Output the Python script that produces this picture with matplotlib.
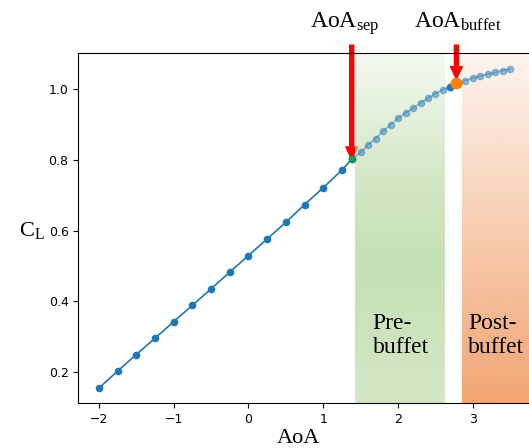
import numpy as np
import matplotlib
matplotlib.use("Agg")
import matplotlib.pyplot as plt

plt.rcParams['mathtext.fontset'] = 'custom'
plt.rcParams['mathtext.rm'] = 'Liberation Serif'
plt.rcParams['mathtext.it'] = 'Liberation Serif:italic'

# attached-flow part of the lift curve
aoa_att = [-2.0, -1.75, -1.5, -1.25, -1.0, -0.75, -0.5, -0.25, 0.0, 0.25, 0.5, 0.75, 1.0, 1.25, 1.38]
cl_att = [0.155, 0.203, 0.250, 0.296, 0.343, 0.389, 0.436, 0.483, 0.530, 0.577, 0.624, 0.674, 0.722, 0.772, 0.802]

# separated part (drawn faded)
aoa_sep_pts = [1.38, 1.5, 1.6, 1.7, 1.8, 1.9, 2.0, 2.1, 2.2, 2.3, 2.4, 2.5, 2.6, 2.7, 2.8,
               2.9, 3.0, 3.1, 3.2, 3.3, 3.4, 3.5]
cl_sep_pts = [0.802, 0.822, 0.843, 0.861, 0.882, 0.900, 0.918, 0.933, 0.947, 0.961, 0.975,
              0.988, 0.999, 1.008, 1.017, 1.025, 1.032, 1.038, 1.043, 1.048, 1.053, 1.057]

# points around buffet onset
aoa_near = [2.7, 2.8]
cl_near = [1.008, 1.017]

aoa_sep, cl_sep = 1.38, 0.802
aoa_buf, cl_buf = 2.78, 1.017

pre_band = (1.425, 2.62)
post_band = (2.86, 3.75)

xlim = (-2.275, 3.75)
ylim = (0.112, 1.102)


def band(ax, x0, x1, rgb, stops, alphas):
    t = np.linspace(0, 1, 256)
    img = np.zeros((256, 1, 4))
    img[:, 0, :3] = np.array(rgb) / 255.0
    img[:, 0, 3] = np.interp(t, stops, alphas)
    ax.imshow(img, extent=(x0, x1, ylim[0], ylim[1]), origin='upper',
              aspect='auto', interpolation='bilinear', zorder=2)


fig = plt.figure(figsize=(5.29, 4.48), dpi=100)
ax = fig.add_axes([78.3 / 529, 44.7 / 448, 1 - 78.3 / 529, 350 / 448])

band(ax, pre_band[0], pre_band[1], (197, 224, 180), [0, 0.35, 0.6, 1.0], [0.2, 0.75, 1.0, 0.75])
band(ax, post_band[0], post_band[1], (242, 165, 115), [0, 1.0], [0.12, 1.0])

# arrows sit under the shaded bands
ap = dict(facecolor='red', edgecolor='red', width=2.9, headwidth=8.5, headlength=9, shrink=0)
ax.annotate('', xy=(aoa_sep, cl_sep), xytext=(aoa_sep, 1.125), arrowprops=ap,
            annotation_clip=False, zorder=1.5)
ax.annotate('', xy=(aoa_buf, 1.029), xytext=(aoa_buf, 1.125), arrowprops=ap,
            annotation_clip=False, zorder=1.5)

ax.plot(aoa_sep_pts, cl_sep_pts, '-o', color='tab:blue', alpha=0.45, ms=4.5, lw=1.2, zorder=3)
ax.plot(aoa_att, cl_att, '-o', color='tab:blue', ms=4.5, lw=1.2, zorder=4)
ax.plot(aoa_near, cl_near, '-o', color='tab:blue', ms=4.5, lw=1.8, zorder=4)
ax.plot(aoa_sep, cl_sep, 'x', color='tab:green', ms=5, mew=1.5, zorder=5)
ax.plot(aoa_buf, cl_buf, 'o', color='tab:orange', ms=7.5, zorder=5)

ax.text(1.285, 1.173, r'$\mathrm{AoA_{sep}}$', fontsize=17, ha='center', va='baseline')
ax.text(2.80, 1.173, r'$\mathrm{AoA_{buffet}}$', fontsize=17, ha='center', va='baseline')

ax.text(1.66, 0.254, 'Pre-\nbuffet', fontsize=17, family='Liberation Serif', va='baseline')
ax.text(2.94, 0.254, 'Post-\nbuffet', fontsize=17, family='Liberation Serif', va='baseline')

ax.set_xlim(xlim)
ax.set_ylim(ylim)
ax.set_xticks([-2, -1, 0, 1, 2, 3])
ax.set_yticks([0.2, 0.4, 0.6, 0.8, 1.0])
ax.tick_params(labelsize=9)
ax.spines['right'].set_visible(False)

ax.set_xlabel('AoA', fontsize=16, family='Liberation Serif')
ax.xaxis.set_label_coords(0.488, -0.074)
ax.set_ylabel(r'$\mathrm{C_L}$', fontsize=16, rotation=0, ha='right', va='center')
ax.yaxis.set_label_coords(-0.076, 0.495)

fig.savefig('out.png', dpi=100)
